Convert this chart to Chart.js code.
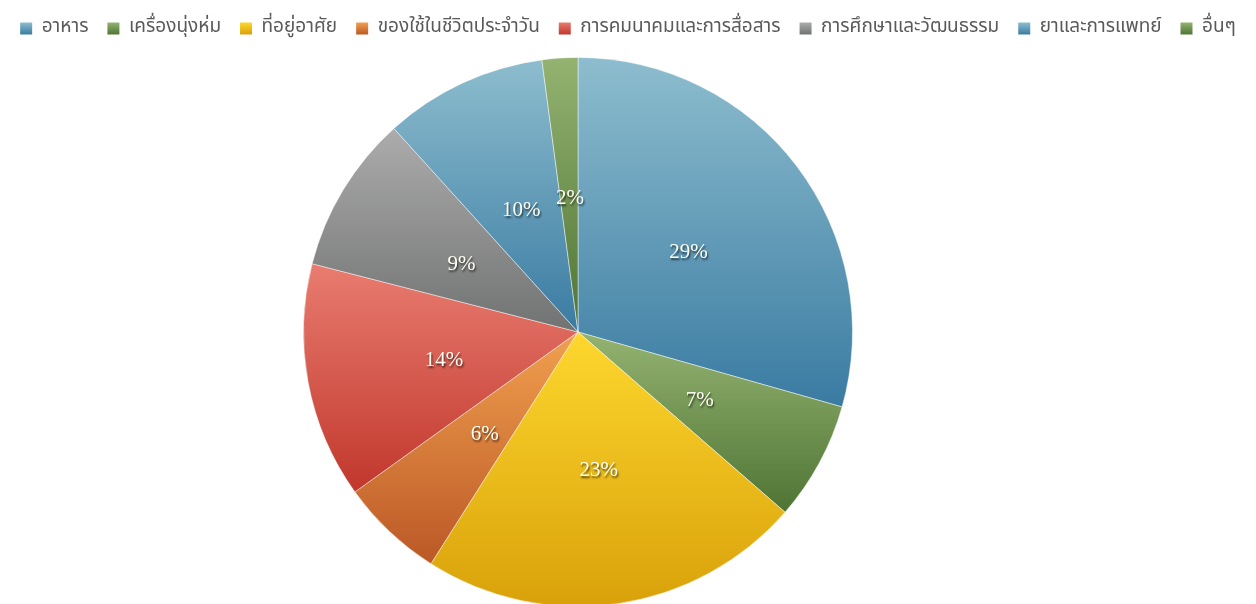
<!DOCTYPE html>
<html>
<head>
<meta charset="utf-8">
<script src="https://cdn.jsdelivr.net/npm/chart.js@4.4.1/dist/chart.umd.min.js"></script>
<style>
  html, body { margin: 0; padding: 0; background: #fff; overflow: hidden; }
</style>
</head>
<body>
<canvas id="pieCanvas" width="1256" height="604"></canvas>
<script>
var categories = ["อาหาร", "เครื่องนุ่งห่ม", "ที่อยู่อาศัย", "ของใช้ในชีวิตประจำวัน", "การคมนาคมและการสื่อสาร", "การศึกษาและวัฒนธรรม", "ยาและการแพทย์", "อื่นๆ"];
var shares = [29.4, 7.0, 22.6, 6.1, 13.9, 9.3, 9.6, 2.1];

// light (top) and dark (bottom) of each slice gradient
var topColors = ["#8dbdce", "#94b371", "#fdd72e", "#f1a04f", "#e97c70", "#abacab", "#8dbdce", "#94b371"];
var bottomColors = ["#3a7ba2", "#4e7434", "#d9a10a", "#bb5826", "#c1372c", "#717272", "#3a7ba2", "#4e7434"];

function sliceGradient(ctx, i, y0, y1) {
  var g = ctx.createLinearGradient(0, y0, 0, y1);
  g.addColorStop(0, topColors[i]);
  g.addColorStop(1, bottomColors[i]);
  return g;
}

function inRange(a, s, e) {
  for (var k = -2; k <= 2; k++) {
    var t = a + k * 2 * Math.PI;
    if (t >= s && t <= e) return true;
  }
  return false;
}

var areaPlugin = {
  id: 'areaPlugin',
  afterLayout: function(chart) {
    var a = chart.chartArea;
    a.left = 0; a.right = chart.width - 100;
    a.top = 57; a.bottom = 607;
    a.width = a.right - a.left;
    a.height = a.bottom - a.top;
  }
};

var gradientPlugin = {
  id: 'gradientPlugin',
  beforeDatasetsDraw: function(chart) {
    var ctx = chart.ctx;
    var meta = chart.getDatasetMeta(0);
    meta.data.forEach(function(arc, i) {
      var r = arc.outerRadius, s = arc.startAngle, e = arc.endAngle;
      var ys = [arc.y, arc.y + r * Math.sin(s), arc.y + r * Math.sin(e)];
      if (inRange(-Math.PI / 2, s, e)) ys.push(arc.y - r);
      if (inRange(Math.PI / 2, s, e)) ys.push(arc.y + r);
      var y0 = Math.min.apply(null, ys), y1 = Math.max.apply(null, ys);
      arc.options.backgroundColor = sliceGradient(ctx, i, y0, y1);
    });
  },
  beforeDraw: function(chart) {
    var lg = chart.legend;
    if (!lg || !lg.legendItems) return;
    lg.legendItems.forEach(function(item, i) {
      var hb = lg.legendHitBoxes[i];
      if (!hb) return;
      var cy = hb.top + hb.height / 2;
      item.fillStyle = sliceGradient(chart.ctx, item.index, cy - 6, cy + 6);
    });
  }
};

var labelPlugin = {
  id: 'labelPlugin',
  afterDatasetsDraw: function(chart) {
    var ctx = chart.ctx;
    var meta = chart.getDatasetMeta(0);
    var total = shares.reduce(function(a, b) { return a + b; }, 0);
    ctx.save();
    ctx.font = '21px "Liberation Serif", "DejaVu Serif", serif';
    ctx.textAlign = 'center';
    ctx.textBaseline = 'middle';
    ctx.fillStyle = '#fffff4';
    ctx.shadowColor = 'rgba(0,0,0,0.65)';
    ctx.shadowOffsetX = 1;
    ctx.shadowOffsetY = 2;
    ctx.shadowBlur = 2;
    meta.data.forEach(function(arc, i) {
      var p = arc.tooltipPosition();
      var pct = Math.round(shares[i] / total * 100) + '%';
      ctx.fillText(pct, p.x + 1, p.y + 3);
    });
    ctx.restore();
  }
};

var chartdata = {
  labels: categories,
  datasets: [{
    data: shares,
    backgroundColor: topColors,
    borderColor: 'rgba(255,255,255,0.45)',
    borderWidth: 1
  }]
};

var pieChart = new Chart(document.getElementById('pieCanvas'), {
  type: 'pie',
  data: chartdata,
  options: {
    responsive: false,
    animation: false,
    events: [],
    plugins: {
      tooltip: { enabled: false },
      legend: {
        position: 'top',
        labels: {
          boxWidth: 12,
          boxHeight: 12,
          padding: 19,
          color: '#5a5a5a',
          font: { size: 19, family: 'Tahoma, "Noto Sans Thai", "Noto Sans", "DejaVu Sans", sans-serif' },
          generateLabels: function(chart) {
            var items = Chart.overrides.pie.plugins.legend.labels.generateLabels(chart);
            items.forEach(function(it) { it.strokeStyle = 'rgba(0,0,0,0)'; it.lineWidth = 0; });
            return items;
          }
        }
      }
    }
  },
  plugins: [areaPlugin, gradientPlugin, labelPlugin]
});
</script>
</body>
</html>
